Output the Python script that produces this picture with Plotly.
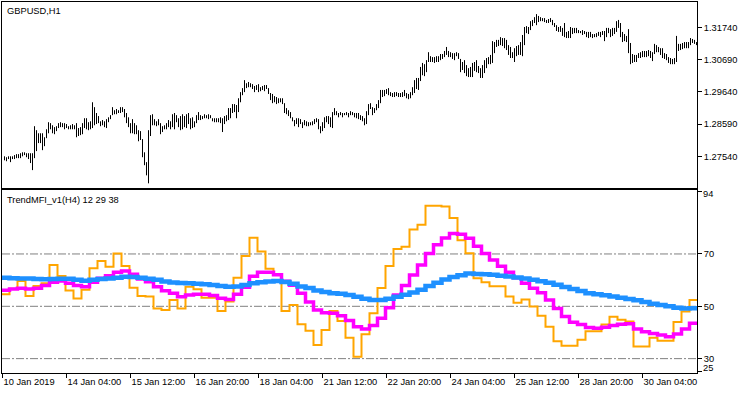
import numpy as np
import plotly.graph_objects as go

# ---------------- data ----------------
symbol_title = "GBPUSD,H1"
indicator_title = "TrendMFI_v1(H4) 12 29 38"

time_labels = ["10 Jan 2019", "14 Jan 04:00", "15 Jan 12:00", "16 Jan 20:00",
               "18 Jan 04:00", "21 Jan 12:00", "22 Jan 20:00", "24 Jan 04:00",
               "25 Jan 12:00", "28 Jan 20:00", "30 Jan 04:00"]
label_bar_index = [0, 32, 64, 96, 128, 160, 192, 224, 256, 288, 320]

price_ticks = [1.27540, 1.28590, 1.29640, 1.30690, 1.31740]
mfi_ticks = [94, 70, 50, 30, 25]
mfi_levels = [70, 50, 30]

# H1 bars: highs and lows
highs = [
1.2754,1.2751,1.2754,1.2754,1.2754,1.2758,1.2761,1.2761,1.2764,1.2767,
1.2767,1.2764,1.2764,1.2764,1.2764,1.2852,1.2839,1.2829,1.2829,1.2829,
1.2816,1.2842,1.2865,1.2862,1.2855,1.2849,1.2852,1.2862,1.2865,1.2862,
1.2862,1.2859,1.2852,1.2855,1.2859,1.2855,1.2862,1.2846,1.2849,1.2862,
1.2878,1.2878,1.2865,1.2868,1.2930,1.2914,1.2895,1.2885,1.2868,1.2872,
1.2868,1.2875,1.2881,1.2888,1.2914,1.2904,1.2908,1.2904,1.2914,1.2914,
1.2908,1.2895,1.2881,1.2862,1.2875,1.2862,1.2855,1.2839,1.2836,1.2810,
1.2767,1.2735,1.2839,1.2888,1.2891,1.2875,1.2868,1.2875,1.2862,1.2852,
1.2855,1.2862,1.2872,1.2868,1.2891,1.2895,1.2888,1.2878,1.2885,1.2891,
1.2885,1.2891,1.2895,1.2878,1.2881,1.2868,1.2888,1.2898,1.2888,1.2885,
1.2891,1.2888,1.2891,1.2888,1.2878,1.2878,1.2878,1.2878,1.2881,1.2878,
1.2885,1.2888,1.2911,1.2911,1.2924,1.2924,1.2921,1.2943,1.2963,1.2976,
1.3002,1.2992,1.2996,1.2992,1.2989,1.2983,1.2986,1.2989,1.2979,1.2983,
1.2986,1.2986,1.2976,1.2960,1.2957,1.2950,1.2947,1.2943,1.2943,1.2943,
1.2927,1.2911,1.2904,1.2898,1.2881,1.2872,1.2878,1.2878,1.2875,1.2865,
1.2872,1.2868,1.2865,1.2865,1.2868,1.2875,1.2878,1.2875,1.2852,1.2865,
1.2881,1.2885,1.2885,1.2881,1.2898,1.2911,1.2901,1.2895,1.2898,1.2895,
1.2895,1.2898,1.2895,1.2901,1.2898,1.2895,1.2895,1.2895,1.2888,1.2885,
1.2878,1.2901,1.2924,1.2927,1.2914,1.2911,1.2924,1.2937,1.2970,1.2970,
1.2970,1.2973,1.2976,1.2963,1.2960,1.2963,1.2963,1.2960,1.2960,1.2963,
1.2970,1.2960,1.2957,1.2963,1.2979,1.3002,1.3009,1.3009,1.3045,1.3058,
1.3054,1.3067,1.3093,1.3080,1.3077,1.3077,1.3080,1.3080,1.3087,1.3087,
1.3097,1.3110,1.3097,1.3093,1.3090,1.3090,1.3093,1.3090,1.3071,1.3061,
1.3067,1.3051,1.3041,1.3045,1.3058,1.3061,1.3067,1.3048,1.3041,1.3051,
1.3067,1.3074,1.3077,1.3084,1.3129,1.3126,1.3133,1.3133,1.3142,1.3139,
1.3139,1.3133,1.3116,1.3110,1.3093,1.3106,1.3113,1.3116,1.3126,1.3149,
1.3175,1.3178,1.3175,1.3194,1.3198,1.3207,1.3217,1.3211,1.3207,1.3204,
1.3204,1.3198,1.3201,1.3204,1.3198,1.3188,1.3181,1.3175,1.3178,1.3172,
1.3188,1.3159,1.3162,1.3175,1.3172,1.3172,1.3172,1.3165,1.3162,1.3165,
1.3162,1.3159,1.3159,1.3159,1.3152,1.3152,1.3155,1.3159,1.3159,1.3162,
1.3162,1.3172,1.3172,1.3168,1.3172,1.3172,1.3194,1.3198,1.3188,1.3159,
1.3152,1.3146,1.3168,1.3123,1.3087,1.3084,1.3084,1.3090,1.3093,1.3097,
1.3097,1.3097,1.3100,1.3097,1.3093,1.3120,1.3116,1.3110,1.3106,1.3106,
1.3090,1.3087,1.3077,1.3074,1.3071,1.3074,1.3146,1.3120,1.3120,1.3123,
1.3126,1.3126,1.3126,1.3139,1.3136,1.3133,1.3126]

lows = [
1.2741,1.2738,1.2745,1.2735,1.2745,1.2745,1.2748,1.2748,1.2748,1.2754,
1.2758,1.2751,1.2745,1.2732,1.2709,1.2748,1.2771,1.2797,1.2797,1.2774,
1.2787,1.2813,1.2829,1.2842,1.2829,1.2826,1.2836,1.2846,1.2849,1.2849,
1.2842,1.2846,1.2842,1.2842,1.2842,1.2842,1.2816,1.2820,1.2823,1.2826,
1.2846,1.2842,1.2839,1.2842,1.2846,1.2855,1.2859,1.2862,1.2852,1.2855,
1.2849,1.2846,1.2865,1.2875,1.2888,1.2891,1.2891,1.2895,1.2895,1.2898,
1.2881,1.2862,1.2849,1.2829,1.2829,1.2826,1.2826,1.2803,1.2807,1.2751,
1.2725,1.2692,1.2666,1.2820,1.2855,1.2855,1.2852,1.2855,1.2826,1.2833,
1.2842,1.2842,1.2849,1.2842,1.2849,1.2842,1.2865,1.2849,1.2839,1.2842,
1.2849,1.2846,1.2859,1.2842,1.2846,1.2849,1.2862,1.2872,1.2872,1.2875,
1.2878,1.2878,1.2875,1.2878,1.2868,1.2865,1.2865,1.2865,1.2862,1.2833,
1.2859,1.2868,1.2872,1.2878,1.2895,1.2898,1.2878,1.2898,1.2930,1.2953,
1.2963,1.2976,1.2979,1.2979,1.2973,1.2963,1.2970,1.2963,1.2966,1.2970,
1.2966,1.2973,1.2957,1.2937,1.2927,1.2930,1.2924,1.2927,1.2930,1.2924,
1.2895,1.2891,1.2885,1.2878,1.2868,1.2852,1.2859,1.2849,1.2859,1.2846,
1.2855,1.2852,1.2852,1.2855,1.2855,1.2859,1.2865,1.2842,1.2829,1.2836,
1.2846,1.2865,1.2859,1.2849,1.2846,1.2888,1.2888,1.2881,1.2888,1.2881,
1.2888,1.2888,1.2881,1.2888,1.2888,1.2881,1.2878,1.2875,1.2872,1.2868,
1.2855,1.2859,1.2888,1.2908,1.2888,1.2895,1.2904,1.2911,1.2927,1.2947,
1.2950,1.2957,1.2953,1.2950,1.2947,1.2947,1.2950,1.2947,1.2947,1.2947,
1.2950,1.2943,1.2940,1.2943,1.2953,1.2960,1.2973,1.2970,1.2999,1.3018,
1.3015,1.3028,1.3061,1.3061,1.3061,1.3058,1.3061,1.3061,1.3067,1.3071,
1.3077,1.3084,1.3077,1.3077,1.3071,1.3067,1.3080,1.3071,1.3028,1.3035,
1.3025,1.3015,1.3012,1.3012,1.3012,1.3032,1.3028,1.3025,1.3009,1.3009,
1.3025,1.3041,1.3054,1.3054,1.3058,1.3090,1.3110,1.3113,1.3116,1.3113,
1.3106,1.3100,1.3084,1.3074,1.3074,1.3061,1.3080,1.3084,1.3084,1.3080,
1.3116,1.3155,1.3152,1.3165,1.3178,1.3188,1.3181,1.3191,1.3194,1.3194,
1.3191,1.3188,1.3188,1.3191,1.3181,1.3175,1.3162,1.3159,1.3159,1.3146,
1.3142,1.3139,1.3139,1.3139,1.3152,1.3155,1.3155,1.3155,1.3155,1.3149,
1.3152,1.3142,1.3139,1.3142,1.3139,1.3142,1.3142,1.3146,1.3142,1.3149,
1.3129,1.3142,1.3155,1.3142,1.3146,1.3152,1.3159,1.3172,1.3142,1.3126,
1.3129,1.3126,1.3090,1.3054,1.3058,1.3061,1.3061,1.3074,1.3074,1.3077,
1.3077,1.3077,1.3080,1.3074,1.3064,1.3087,1.3093,1.3093,1.3084,1.3074,
1.3071,1.3067,1.3058,1.3054,1.3054,1.3054,1.3061,1.3097,1.3100,1.3103,
1.3106,1.3106,1.3106,1.3116,1.3123,1.3120,1.3116]

# TrendMFI on H4 (one value per H4 bar = 4 H1 bars)
mfi_fast = [
54.6,56.7,59.7,53.9,57.8,58.8,65.8,61.6,56.0,53.0,
56.3,64.5,67.3,65.1,70.2,65.4,57.1,53.9,53.7,49.2,
48.6,52.4,49.2,57.5,56.5,53.3,53.3,48.2,51.8,60.9,
69.2,76.2,70.9,64.3,62.2,48.2,50.5,43.1,40.7,35.2,
40.9,48.2,44.4,38.0,30.7,39.3,47.3,57.0,65.4,71.9,
72.8,79.3,81.2,88.4,88.4,88.1,83.7,75.2,70.3,60.7,
59.2,57.7,57.7,53.7,51.4,52.6,49.9,46.4,42.2,36.6,
34.9,34.9,37.2,40.5,40.5,43.0,46.0,44.9,44.2,34.6,
34.6,38.0,36.8,36.8,44.0,48.0,52.4]

mfi_signal = [
56.1,56.6,56.9,56.6,56.9,57.9,59.2,59.7,58.8,57.9,
57.5,59.2,60.7,61.7,63.0,63.5,62.2,60.4,59.4,57.5,
55.9,55.0,53.6,54.3,54.6,54.6,54.1,53.1,52.6,54.6,
57.3,61.5,63.0,63.0,62.1,59.6,58.0,55.0,51.6,48.6,
47.5,47.3,46.4,44.6,42.2,41.3,42.7,45.4,49.4,54.3,
57.9,62.0,65.8,70.2,73.5,76.1,77.8,77.5,76.0,72.9,
70.2,67.7,65.3,63.0,60.9,58.8,56.9,55.2,52.4,49.2,
46.1,43.9,43.0,41.9,41.6,42.0,42.7,43.1,43.3,41.3,
40.3,39.6,39.0,38.4,39.4,41.3,43.5]

mfi_trend = [
60.9,60.7,60.6,60.6,60.4,60.3,60.4,60.5,60.5,60.1,
59.8,60.1,60.4,60.6,60.9,61.3,61.2,60.9,60.5,60.1,
59.5,59.1,58.9,58.8,58.6,58.4,58.1,57.8,57.5,57.6,
58.1,58.8,59.2,59.5,59.7,59.3,58.6,57.6,57.0,56.0,
55.5,55.0,54.8,54.3,53.6,52.9,52.4,52.4,52.9,53.6,
54.4,55.3,56.3,57.8,59.0,60.2,61.2,61.9,62.5,62.3,
62.2,62.1,61.7,61.4,61.0,60.6,60.1,59.6,59.0,58.2,
57.4,56.6,55.8,55.0,54.6,54.2,53.7,53.3,52.8,52.3,
51.6,51.0,50.5,50.0,49.4,49.2,49.3]

# ---------------- figure ----------------
W, H = 750, 394
FONT = "Liberation Sans, Arial, sans-serif"
FS = 9.3

n_bars = len(highs)
bar_x = np.arange(1, n_bars + 1)
xr = [-0.25, n_bars + 0.25]

# price bars as vertical segments
seg_x, seg_y = [], []
for xi, hi, lo in zip(bar_x, highs, lows):
    seg_x += [xi, xi, None]
    seg_y += [lo, hi, None]

fig = go.Figure()
fig.add_trace(go.Scatter(x=seg_x, y=seg_y, mode="lines",
                         line=dict(color="black", width=1),
                         xaxis="x", yaxis="y", hoverinfo="skip", showlegend=False))

# H4 steps on H1 scale
h4_start = np.arange(len(mfi_fast)) * 4 - 0.5


def step_trace(vals, color, width):
    xs = list(h4_start) + [xr[1]]
    ys = list(vals) + [vals[-1]]
    return go.Scatter(x=xs, y=ys, mode="lines", line=dict(color=color, width=width, shape="hv"),
                      xaxis="x2", yaxis="y2", hoverinfo="skip", showlegend=False)


fig.add_trace(step_trace(mfi_fast, "#FFA500", 2))
fig.add_trace(step_trace(mfi_signal, "#FF00FF", 3.5))
fig.add_trace(step_trace(mfi_trend, "#1E90FF", 4.5))

# geometry of panes (pixels)
ml, mr, mt, mb = 2, 53, 2, 21
ph = H - mt - mb
top_dom = [(H - mb - 188) / ph, 1.0]
bot_dom = [0.0, (H - mb - 190) / ph]

axis_common = dict(showline=True, mirror=True, linecolor="black", linewidth=1,
                   showgrid=False, zeroline=False, fixedrange=True)

fig.update_layout(
    width=W, height=H,
    margin=dict(l=ml, r=mr, t=mt, b=mb, pad=0),
    paper_bgcolor="white", plot_bgcolor="white",
    font=dict(family=FONT, size=FS, color="black"),
    showlegend=False,
    xaxis=dict(domain=[0, 1], range=xr, anchor="y", showticklabels=False, ticks="", **axis_common),
    xaxis2=dict(domain=[0, 1], range=xr, anchor="y2", matches="x",
                tickmode="array", tickvals=label_bar_index, ticktext=time_labels,
                ticks="outside", ticklen=4, tickcolor="black", tickwidth=1,
                ticklabelposition="outside right",
                tickfont=dict(family=FONT, size=FS, color="black"), **axis_common),
    yaxis=dict(domain=top_dom, range=[1.26508, 1.32564], anchor="x", side="right",
               tickmode="array", tickvals=price_ticks,
               ticktext=[f"{v:.5f}" for v in price_ticks],
               ticks="outside", ticklen=4, tickcolor="black",
               tickfont=dict(family=FONT, size=FS, color="black"), **axis_common),
    yaxis2=dict(domain=bot_dom, range=[24.51, 94.44], anchor="x2", side="right",
                tickmode="array", tickvals=mfi_ticks,
                ticktext=[str(v) if v in mfi_levels else "" for v in mfi_ticks],
                ticks="outside", ticklen=4, tickcolor="black",
                tickfont=dict(family=FONT, size=FS, color="black"), **axis_common),
)

for lv in mfi_levels:
    fig.add_shape(type="line", xref="x2 domain", x0=0, x1=1, yref="y2", y0=lv, y1=lv,
                  line=dict(color="#808080", width=1, dash="8px,2px,2px,2px"), layer="below")

# edge labels of the indicator scale, pushed inside the pane like the terminal does
fig.add_annotation(text=str(mfi_ticks[0]), xref="paper", x=1, xanchor="left", xshift=4,
                   yref="y2", y=mfi_ticks[0], yanchor="middle", yshift=-3, showarrow=False,
                   font=dict(family=FONT, size=FS, color="black"))
fig.add_annotation(text=str(mfi_ticks[-1]), xref="paper", x=1, xanchor="left", xshift=4,
                   yref="y2", y=mfi_ticks[-1], yanchor="middle", yshift=4, showarrow=False,
                   font=dict(family=FONT, size=FS, color="black"))

fig.add_annotation(text=symbol_title, xref="paper", x=0, xanchor="left", xshift=3,
                   yref="y domain", y=1, yanchor="top", yshift=-2, showarrow=False,
                   font=dict(family=FONT, size=FS, color="black"))
fig.add_annotation(text=indicator_title, xref="paper", x=0, xanchor="left", xshift=3,
                   yref="y2 domain", y=1, yanchor="top", yshift=-3, showarrow=False,
                   font=dict(family=FONT, size=FS, color="black"))

fig.write_html("out.html", config={"displayModeBar": False},
               post_script="document.body.style.margin='0';document.body.style.padding='0';")
